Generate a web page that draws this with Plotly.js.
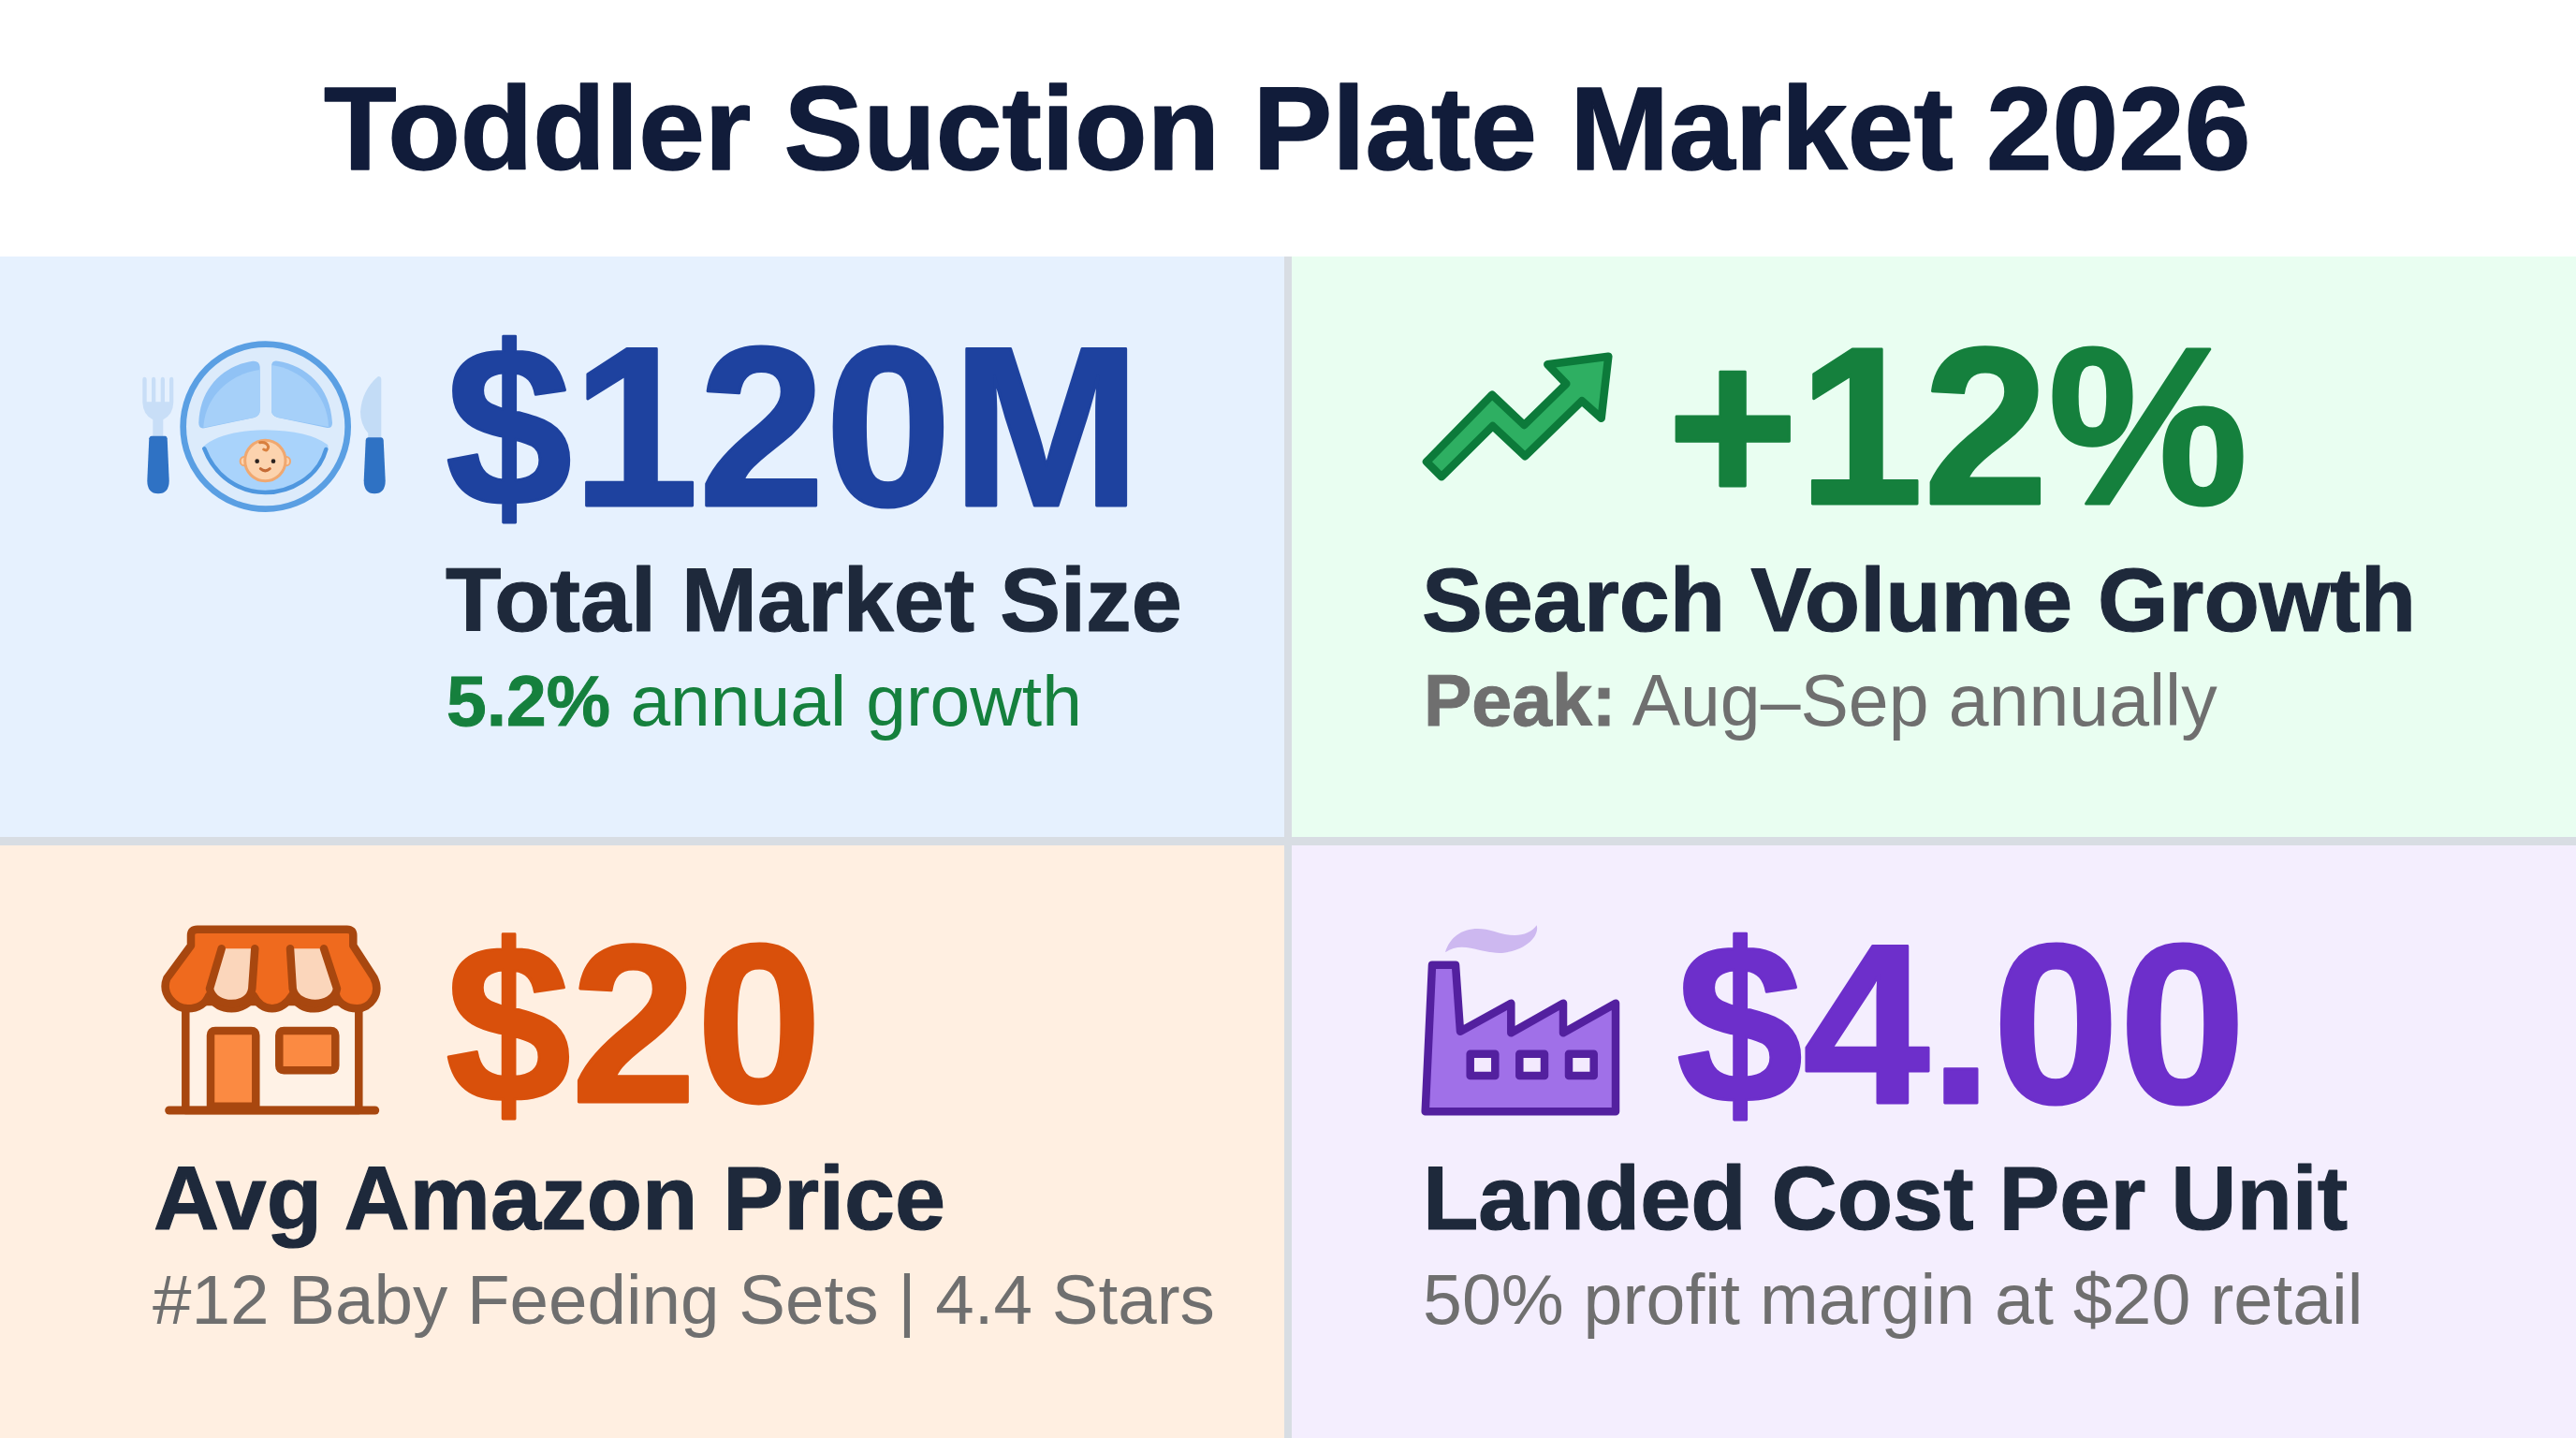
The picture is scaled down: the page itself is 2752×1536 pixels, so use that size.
<!DOCTYPE html>
<html><head><meta charset="utf-8">
<script src="https://cdn.plot.ly/plotly-3.0.1.min.js"></script>
<style>
html,body{margin:0;padding:0;background:#fff;overflow:hidden}
#chart{width:2752px;height:1536px}
.shapelayer path{stroke-linejoin:round;stroke-linecap:round}
</style></head><body><div id="chart"></div>
<script>
const chartTitle = "Toddler Suction Plate Market 2026";
const kpiValues = ["$120M", "+12%", "$20", "$4.00"];
const kpiLabels = ["Total Market Size", "Search Volume Growth", "Avg Amazon Price", "Landed Cost Per Unit"];
const kpiNotes = ["<b>5.2%</b> annual growth", "<b>Peak:</b> Aug–Sep annually", "#12 Baby Feeding Sets | 4.4 Stars", "50% profit margin at $20 retail"];
const valueColors = ["#1e429f", "#15803d", "#d9500b", "#6d2fcb"];
const noteColors = ["#15803d", "#6f6f6f", "#6f6f6f", "#6f6f6f"];
const panelColors = ["#e6f1fe", "#e9fef1", "#ffefe1", "#f4eefe"];

const W = 2752, H = 1536;
const shapes = [];
const annotations = [];
function rect(x0,y0,x1,y1,fill){shapes.push({type:'rect',xref:'x',yref:'y',x0,y0,x1,y1,fillcolor:fill,line:{width:0},layer:'below'});}
// icon paths are authored on a 3x grid relative to an origin
function ic(ox,oy,d,fill,stroke,w){
  const out=d.replace(/(-?[\d.]+),(-?[\d.]+)/g,(m,a,b)=>(ox+a/3).toFixed(1)+','+(oy+b/3).toFixed(1)).replace(/([A-Z])\s*/g,'$1').replace(/,/g,' ');
  shapes.push({type:'path',xref:'x',yref:'y',path:out,fillcolor:fill||'rgba(0,0,0,0)',line:{color:stroke||'rgba(0,0,0,0)',width:w||0}});
}
function circ(ox,oy,cx,cy,rx,ry,fill,stroke,w){
  shapes.push({type:'circle',xref:'x',yref:'y',x0:ox+(cx-rx)/3,x1:ox+(cx+rx)/3,y0:oy+(cy-ry)/3,y1:oy+(cy+ry)/3,fillcolor:fill||'rgba(0,0,0,0)',line:{color:stroke||'rgba(0,0,0,0)',width:w||0}});
}
function txt(s,x,y,size,color,weight,xanchor){
  annotations.push({text:s,x,y,xref:'x',yref:'y',xanchor:xanchor||'left',yanchor:'middle',showarrow:false,borderpad:0,align:'left',
    font:{family:'"Liberation Sans", Arial, sans-serif',size,color,weight:weight||400}});
}

// panels
rect(0,274,1372,894,panelColors[0]);
rect(1380,274,W,894,panelColors[1]);
rect(0,903,1372,H,panelColors[2]);
rect(1380,903,W,H,panelColors[3]);
rect(1372,274,1380,H,'#d8dde3');
rect(0,894,W,903,'#d8dde3');

// plate icon
{const o=[130,340];const I=(d,f,s,w)=>ic(o[0],o[1],d,f,s,w);const C=(...a)=>circ(o[0],o[1],...a);
 I('M67,198 Q67,188 73,188 Q80,188 80,198 L80,268 L96,268 L96,198 Q96,188 102,188 Q109,188 109,198 L109,268 L125,268 L125,198 Q125,188 131,188 Q138,188 138,198 L138,268 L153,268 L153,198 Q153,188 160,188 Q166,188 166,198 L166,270 Q164,310 133,325 L133,380 L100,380 L100,325 Q69,310 67,270 Z','#c8def7');
 I('M95,377 L140,377 Q145,377 146,385 L152,520 Q152,562 117,562 Q82,562 82,520 L88,385 Q89,377 95,377 Z','#2f72c4');
 I('M822,186 Q770,230 765,300 Q765,340 790,368 L790,385 L832,385 L832,195 Q832,186 822,186 Z','#c3dcf6');
 I('M790,382 L832,382 Q838,382 839,390 L845,520 Q845,562 810,562 Q776,562 776,520 L782,390 Q783,382 790,382 Z','#2f72c4');
 C(461,347,264,264,'#dcebfb','#5a9fe3',6.7);
 I('M443,155 Q441,135 420,137 C330,150 250,220 247,335 Q247,355 265,352 L425,318 Q443,312 443,295 Z','#90c2f5');
 I('M443,165 C360,175 268,240 262,350 L425,318 Q443,312 443,295 Z','#a6d0f9');
 I('M480,155 Q480,133 500,137 C590,150 670,220 675,335 Q675,355 655,350 L500,318 Q480,312 480,295 Z','#90c2f5');
 I('M480,150 C570,160 660,240 663,348 L500,318 Q480,312 480,295 Z','#a6d0f9');
 I('M262,410 Q320,360 460,358 Q600,360 660,405 Q665,415 655,430 C620,510 540,555 460,555 C380,555 300,510 262,425 Z','#a9d3fb');
 I('M265,418 C300,510 380,558 460,558 C540,558 630,510 655,420',null,'#4f97df',4.5);
 C(392,458,12,14,'#fcd3ae','#f0a870',2);
 C(528,458,12,14,'#fcd3ae','#f0a870',2);
 C(460,456,65,65,'#fcd3ae','#f0a870',3);
 I('M443,398 Q465,395 470,412 Q468,428 455,420','rgba(0,0,0,0)','#d9803f',3);
 C(434,458,7,7,'#2b2320');C(486,458,7,7,'#2b2320');
 I('M445,482 Q460,495 475,482',null,'#c46a35',3);
}
// arrow icon
ic(1500,350,'M72,430 L282,215 L385,312 L520,180 L460,118 L655,92 L632,290 L570,235 L388,412 L284,315 L120,478 Z','#2eaf62','#0c7a3a',8.5);
// store icon
{const I=(d,f,s,w)=>ic(160,970,d,f,s,w);const s='#a8470f';
 I('M115,300 L115,648 L670,648 L670,300 Z','#fff2e6',s,8.5);
 I('M62,648 L722,648',null,s,9);
 I('M195,635 L195,408 Q195,393 210,393 L325,393 Q340,393 340,408 L340,635 Z','#fb8a42',s,8.5);
 I('M415,408 Q415,393 430,393 L580,393 Q595,393 595,408 L595,505 Q595,520 580,520 L430,520 Q415,520 415,505 Z','#fb8a42',s,8.5);
 I('M132,88 Q132,68 152,68 L632,68 Q652,68 652,88 L652,120 L718,222 C745,275 705,322 665,322 C630,322 605,305 597,280 C585,305 560,322 528,322 C495,322 470,305 456,280 C440,305 420,322 392,322 C365,322 345,305 332,280 C320,305 295,322 262,322 C230,322 205,305 190,280 C180,305 155,322 122,322 C80,322 35,275 55,225 L132,120 Z','#ef6a1e',s,8.5);
 I('M230,130 L337,130 L328,258 C320,322 205,322 192,258 Z','#fbd6bb');
 I('M450,130 L558,130 L600,258 C590,322 470,322 458,258 Z','#fbd6bb');
 I('M230,130 L192,258 C205,322 320,322 328,258 L337,130',null,s,8.5);
 I('M450,130 L458,258 C470,322 590,322 600,258 L558,130',null,s,8.5);
}
// factory icon
{const I=(d,f,s,w)=>ic(1500,970,d,f,s,w);const s='#53209f';
 I('M132,142 C150,80 210,50 290,75 C350,95 400,90 425,55 C435,90 390,135 320,143 C250,150 190,100 132,142 Z','#cdb8f0');
 I('M90,182 L165,182 L180,395 L343,305 L343,400 L510,305 L510,400 L678,305 L678,652 L68,652 Z','#a070e8',s,8.5);
 for(const x of [212,370,528]) I(`M${x},467 L${x+80},467 L${x+80},537 L${x},537 Z`,'#f3eafe',s,8.5);
}

// text
txt(chartTitle,1375,137,127,'#111c3a',700,'center');
const vx=[475,1780,475,1790], vy=[455,455,1093,1093], vs=[243,240,241,243];
const lx=[475,1518,163,1519], ly=[640,640,1279,1279];
const nx=[476,1520,162,1519], ny=[748,748,1388,1388], ns=[76.8,77,74.6,75.3];
kpiValues.forEach((v,i)=>txt(v,vx[i],vy[i],vs[i],valueColors[i],700));
kpiLabels.forEach((v,i)=>txt(v,lx[i],ly[i],97.2,'#1e293b',700));
kpiNotes.forEach((v,i)=>txt(v,nx[i],ny[i],ns[i],noteColors[i],400));

Plotly.newPlot('chart',[],{
  width:W,height:H,margin:{l:0,r:0,t:0,b:0},paper_bgcolor:'#ffffff',plot_bgcolor:'#ffffff',showlegend:false,
  xaxis:{range:[0,W],visible:false,fixedrange:true},
  yaxis:{range:[H,0],visible:false,fixedrange:true},
  shapes,annotations
},{displayModeBar:false,staticPlot:true}).then(()=>{
  // slightly heavier bold strokes, as in the reference
  document.querySelectorAll('.annotation-text').forEach((t,i)=>{
    const col=t.style.fill||getComputedStyle(t).fill;
    const size=parseFloat(t.style.fontSize)||parseFloat(getComputedStyle(t).fontSize);
    if(i<9){t.style.stroke=col;t.style.strokeWidth=(size*0.012)+'px';t.style.strokeLinejoin='round';}
    else t.querySelectorAll('tspan').forEach(s=>{if(/bold/.test(s.getAttribute('style')||'')){s.style.stroke=col;s.style.strokeWidth='1px';}});
  });
});
</script></body></html>
